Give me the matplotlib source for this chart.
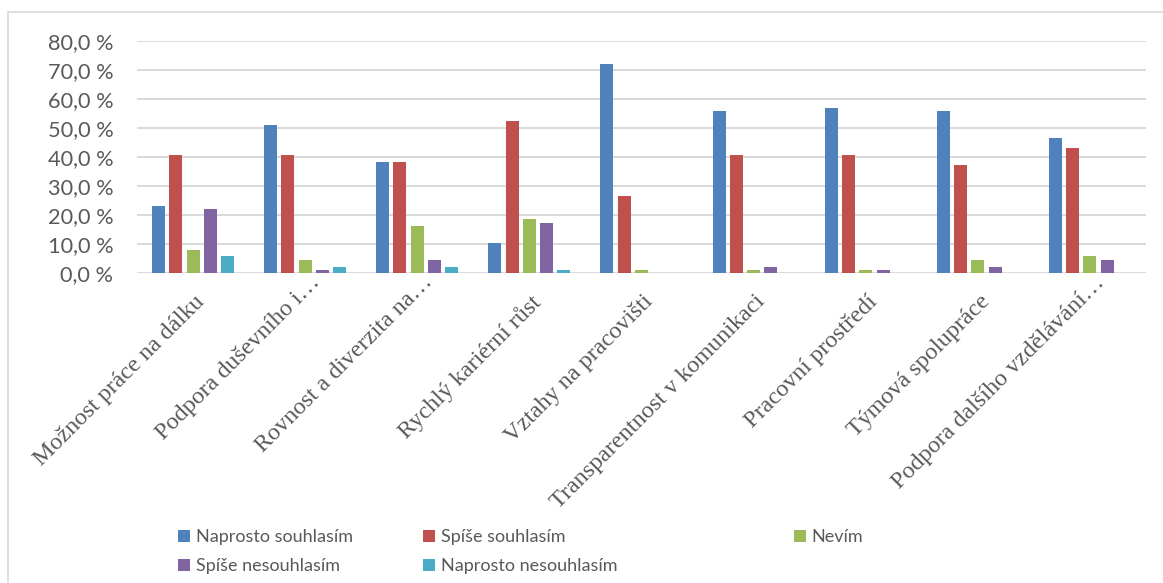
import matplotlib
matplotlib.use('Agg')
import matplotlib.pyplot as plt
import matplotlib.transforms as mtransforms
from matplotlib.patches import Rectangle, Patch
import numpy as np

# Survey answers, share of respondents per statement (%)
categories = [
    'Možnost práce na dálku',
    'Podpora duševního i…',
    'Rovnost a diverzita na…',
    'Rychlý kariérní růst',
    'Vztahy na pracovišti',
    'Transparentnost v komunikaci',
    'Pracovní prostředí',
    'Týmová spolupráce',
    'Podpora dalšího vzdělávání…',
]
naprosto_souhlasim = [23.3, 51.2, 38.4, 10.5, 72.1, 55.8, 57.0, 55.8, 46.5]
spise_souhlasim = [40.7, 40.7, 38.4, 52.3, 26.7, 40.7, 40.7, 37.2, 43.0]
nevim = [8.1, 4.7, 16.3, 18.6, 1.2, 1.2, 1.2, 4.7, 5.8]
spise_nesouhlasim = [22.1, 1.2, 4.7, 17.4, 0.0, 2.3, 1.2, 2.3, 4.7]
naprosto_nesouhlasim = [5.8, 2.3, 2.3, 1.2, 0.0, 0.0, 0.0, 0.0, 0.0]

series_names = ['Naprosto souhlasím', 'Spíše souhlasím', 'Nevím',
                'Spíše nesouhlasím', 'Naprosto nesouhlasím']
series_values = [naprosto_souhlasim, spise_souhlasim, nevim,
                 spise_nesouhlasim, naprosto_nesouhlasim]
colors = ['#4F81BD', '#C0504D', '#9BBB59', '#8064A2', '#4BACC6']

text_color = '#595959'
grid_color = '#D9D9D9'
sans = ['Lato', 'DejaVu Sans']
serif = ['Liberation Serif', 'DejaVu Serif']

fig = plt.figure(figsize=(11.63, 5.83), dpi=100)
ax = fig.add_axes([137 / 1163, 309.7 / 583, 1009 / 1163, 232.3 / 583])

x = np.arange(len(categories))
pitch = 0.1543
width = 0.116
for j, (vals, col) in enumerate(zip(series_values, colors)):
    ax.bar(x + (j - 2) * pitch, vals, width, color=col, zorder=3)

ax.set_xlim(-0.5, len(categories) - 0.5)
ax.set_ylim(0, 80)
ax.set_yticks(np.arange(0, 81, 10))
ax.set_yticklabels([f'{v:.1f}'.replace('.', ',') + ' %' for v in range(0, 81, 10)],
                   family=sans, fontsize=15.7, color=text_color)
ax.yaxis.grid(True, color=grid_color, linewidth=1.4, zorder=0)
ax.tick_params(axis='y', length=0, pad=17)
for s in ax.spines.values():
    s.set_visible(False)

ax.set_xticks(x)
ax.set_xticklabels(categories, rotation=45, ha='right', va='top',
                   rotation_mode='anchor', family=serif, fontsize=17.4,
                   color=text_color)
ax.tick_params(axis='x', length=0, pad=13)
# truncated labels (ending with an ellipsis) sit a little higher and further right
for lbl in ax.get_xticklabels():
    if lbl.get_text().endswith('…'):
        dx, dy = 0.045, 0.195
    else:
        dx, dy = 0.01, 0.0
    shift = mtransforms.ScaledTranslation(dx, dy, fig.dpi_scale_trans)
    lbl.set_transform(lbl.get_transform() + shift)

# chart frame
fig.add_artist(Rectangle((8 / 1163, -0.1), 2, (583 - 12) / 583 + 0.1,
                         transform=fig.transFigure, fill=False,
                         edgecolor=grid_color, linewidth=1.2))

# legend laid out in three columns
handles = [Patch(facecolor=c, edgecolor='none') for c in colors]
columns = [([0, 3], 178), ([1, 4], 423), ([2], 794)]
for idx, xpos in columns:
    fig.legend([handles[i] for i in idx], [series_names[i] for i in idx],
               loc='upper left', bbox_to_anchor=(xpos / 1163, (583 - 529) / 583),
               frameon=False, borderpad=0, borderaxespad=0,
               handlelength=0.65, handleheight=0.65, handletextpad=0.33,
               labelspacing=0.72, prop={'family': sans, 'size': 13},
               labelcolor=text_color)

fig.savefig('out.png', dpi=100)
